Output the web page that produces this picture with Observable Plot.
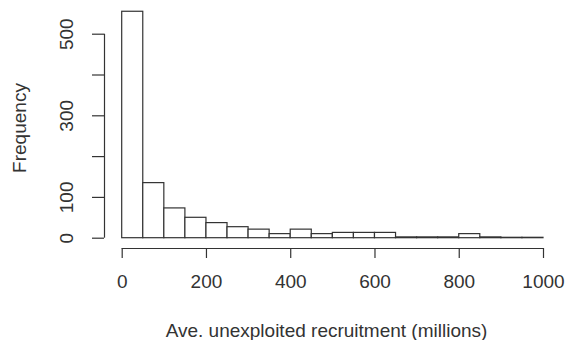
<!DOCTYPE html>
<html>
<head>
<meta charset="utf-8">
<script src="https://cdn.jsdelivr.net/npm/d3@7"></script>
<script src="https://cdn.jsdelivr.net/npm/@observablehq/plot@0.6"></script>
<style>
  html, body { margin: 0; padding: 0; background: #fff; }
  #chart svg { display: block; }
</style>
</head>
<body>
<div id="chart"></div>
<script>
// Histogram bins (millions) and frequencies
const binStart = [0, 50, 100, 150, 200, 250, 300, 350, 400, 450, 500, 550, 600, 650, 700, 750, 800, 850, 900, 950];
const binEnd   = [50, 100, 150, 200, 250, 300, 350, 400, 450, 500, 550, 600, 650, 700, 750, 800, 850, 900, 950, 1000];
const counts   = [555, 135, 73, 50, 37, 27, 21, 10, 21, 10, 13, 13, 13, 2, 2, 2, 10, 2, 1, 1];

const xTicks = [0, 200, 400, 600, 800, 1000];
const yTicks = [0, 100, 200, 300, 400, 500];
const yLabels = [0, 100, 300, 500];

const xTitle = "Ave. unexploited recruitment (millions)";
const yTitle = "Frequency";

const bins = binStart.map((s, i) => ({x1: s, x2: binEnd[i], y: counts[i]}));

const ink = "#333";

const chart = Plot.plot({
  width: 567,
  height: 340,
  marginLeft: 104,
  marginRight: 19,
  marginTop: 7,
  marginBottom: 92,
  style: {fontFamily: "'Liberation Sans', Arial, sans-serif", fontSize: "19px", color: ink, background: "#fff"},
  x: {domain: [0, 1000], insetLeft: 17.7, insetRight: 5},
  y: {domain: [0, 500], insetBottom: 10.3, insetTop: 26.7},
  marks: [
    Plot.rectY(bins, {x1: "x1", x2: "x2", y: "y", fill: "#fff", stroke: ink, strokeWidth: 1.2}),
    // axis lines (R-style, detached from the bars)
    Plot.ruleY([0], {x1: () => xTicks[0], x2: () => xTicks[xTicks.length - 1], dy: 10.3, stroke: ink, strokeWidth: 1.2}),
    Plot.ruleX([0], {y1: () => yTicks[0], y2: () => yTicks[yTicks.length - 1], dx: -17.7, stroke: ink, strokeWidth: 1.2}),
    Plot.axisX({ticks: xTicks, tickSize: 10, tickPadding: 16, stroke: ink, strokeWidth: 1.2, fill: ink,
      tickFormat: d => String(d),
      label: xTitle, labelAnchor: "center", labelOffset: 88, labelArrow: "none"}),
    Plot.axisY({ticks: yTicks, tickSize: 12, tickRotate: -90, tickPadding: 20, stroke: ink, strokeWidth: 1.2, fill: ink,
      tickFormat: d => yLabels.includes(d) ? String(d) : "",
      label: yTitle, labelAnchor: "center", labelOffset: 92, labelArrow: "none"})
  ]
});

document.getElementById("chart").appendChild(chart);
</script>
</body>
</html>
